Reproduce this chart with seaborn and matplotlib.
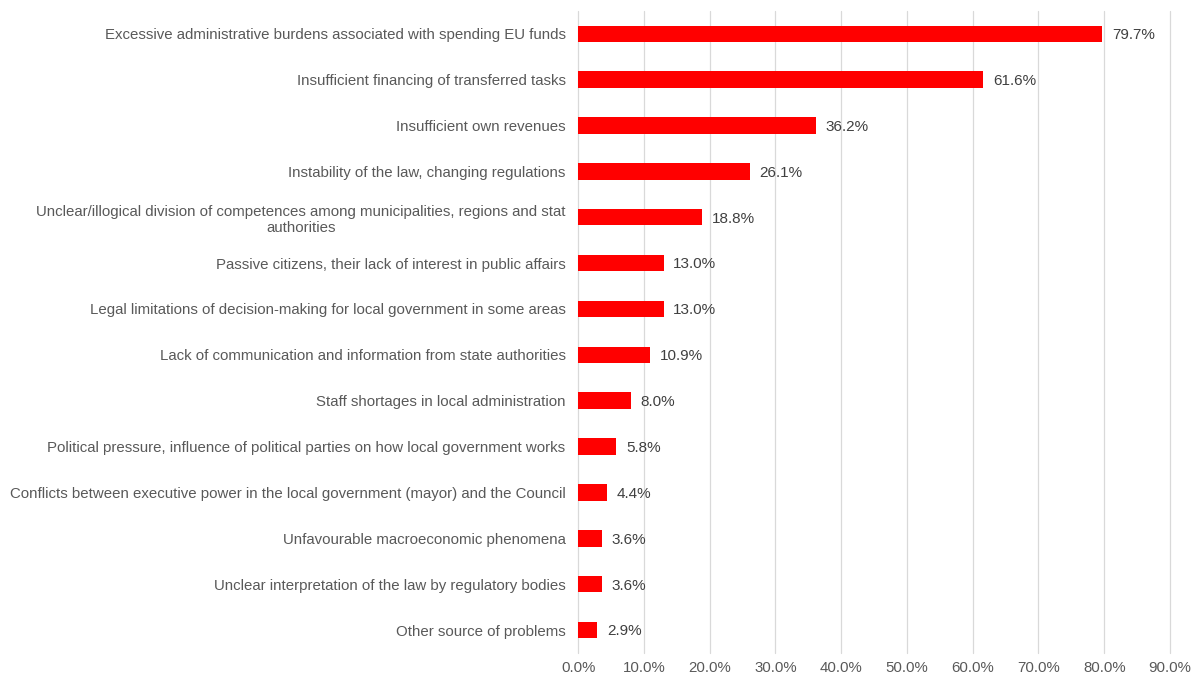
import matplotlib
matplotlib.use("Agg")
import matplotlib.pyplot as plt
import seaborn as sns
import pandas as pd
from matplotlib.ticker import FuncFormatter, MultipleLocator

categories = [
    "Excessive administrative burdens associated with spending EU funds",
    "Insufficient financing of transferred tasks",
    "Insufficient own revenues",
    "Instability of the law, changing regulations",
    "Unclear/illogical division of competences among municipalities, regions and stat\nauthorities",
    "Passive citizens, their lack of interest in public affairs",
    "Legal limitations of decision-making for local government in some areas",
    "Lack of communication and information from state authorities",
    "Staff shortages in local administration",
    "Political pressure, influence of political parties on how local government works",
    "Conflicts between executive power in the local government (mayor) and the Council",
    "Unfavourable macroeconomic phenomena",
    "Unclear interpretation of the law by regulatory bodies",
    "Other source of problems",
]
shares = [79.7, 61.6, 36.2, 26.1, 18.8, 13.0, 13.0, 10.9, 8.0, 5.8, 4.4, 3.6, 3.6, 2.9]

df = pd.DataFrame({"problem": categories, "share": shares})

sns.set_theme(style="white")
plt.rcParams["font.family"] = ["Liberation Sans", "DejaVu Sans"]

fig = plt.figure(figsize=(11.92, 6.77), dpi=100)
ax = fig.add_axes([0.485, 0.0355, 0.4965, 0.9485])

sns.barplot(data=df, x="share", y="problem", orient="h", color="#FF0000",
            saturation=1, width=0.36, linewidth=0, ax=ax, zorder=3)

ax.set_xlim(0, 90)
ax.xaxis.set_major_locator(MultipleLocator(10))
ax.xaxis.set_major_formatter(FuncFormatter(lambda v, _: f"{v:.1f}%"))
ax.grid(axis="x", color="#D9D9D9", linewidth=0.9, zorder=0)
ax.grid(axis="y", visible=False)
for gl in ax.get_xgridlines():
    gl.set_clip_on(False)
for s in ax.spines.values():
    s.set_visible(False)
ax.set_xlabel("")
ax.set_ylabel("")
ax.tick_params(axis="both", length=0, labelsize=10.8, colors="#595959")
ax.tick_params(axis="y", pad=9)
ax.tick_params(axis="x", pad=6)
for lab in ax.get_yticklabels():
    lab.set_multialignment("center")

for i, v in enumerate(shares):
    ax.annotate(f"{v:.1f}%", xy=(v, i), xytext=(7, -1), textcoords="offset points",
                va="center", ha="left", fontsize=11, color="#404040")

fig.savefig("out.png", dpi=100)
